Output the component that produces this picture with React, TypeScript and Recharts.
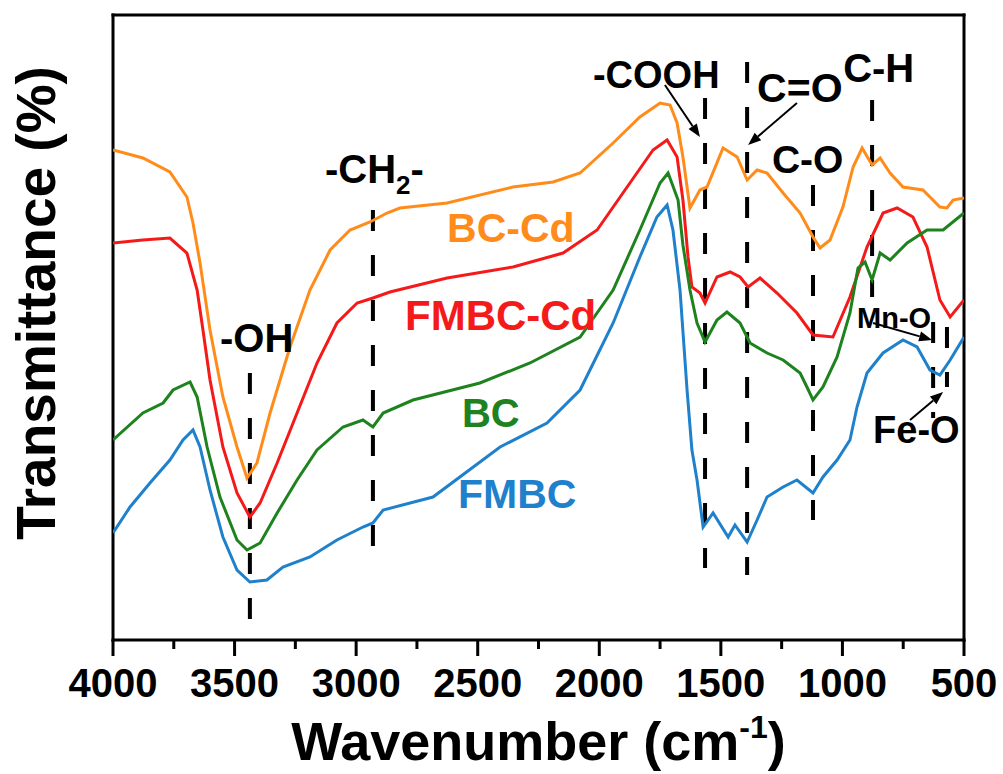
import React from "react";
import {
  LineChart,
  Line,
  XAxis,
  YAxis,
  ReferenceLine,
  ReferenceDot,
} from "recharts";

// wavenumber (cm-1), transmittance (arbitrary, offset per curve)
const bcCdWave = [4000, 3877, 3766, 3696, 3671, 3642, 3601, 3548, 3490, 3449, 3408, 3354, 3272, 3190, 3107, 3025, 2943, 2873, 2820, 2626, 2355, 2190, 2079, 1943, 1833, 1750, 1709, 1680, 1656, 1627, 1586, 1557, 1491, 1433, 1392, 1351, 1310, 1244, 1174, 1121, 1092, 1051, 998, 956, 919, 878, 845, 804, 751, 669, 599, 570, 545, 500];
const bcCdT = [490, 482, 468, 443, 417, 377, 310, 243, 193, 162, 177, 227, 293, 350, 390, 410, 418, 427, 432, 437, 453, 458, 467, 497, 523, 537, 535, 517, 483, 432, 450, 453, 492, 483, 460, 470, 467, 447, 427, 403, 392, 400, 433, 473, 492, 475, 482, 467, 453, 450, 433, 432, 440, 442];

const fmbcCdWave = [4000, 3877, 3766, 3696, 3654, 3630, 3601, 3548, 3490, 3437, 3395, 3325, 3243, 3161, 3079, 2996, 2931, 2861, 2626, 2355, 2149, 2009, 1874, 1779, 1721, 1680, 1656, 1635, 1619, 1586, 1565, 1516, 1462, 1421, 1388, 1339, 1269, 1187, 1121, 1039, 969, 899, 833, 775, 710, 652, 599, 557, 500];
const fmbcCdT = [397, 400, 402, 387, 350, 310, 260, 193, 147, 123, 137, 177, 227, 277, 317, 337, 342, 348, 362, 373, 387, 410, 457, 490, 500, 483, 440, 383, 353, 347, 337, 363, 368, 363, 353, 362, 347, 327, 305, 303, 343, 393, 427, 432, 423, 393, 340, 323, 340];

const bcWave = [4000, 3877, 3794, 3753, 3683, 3654, 3613, 3560, 3490, 3449, 3395, 3325, 3243, 3161, 3054, 2972, 2931, 2889, 2766, 2491, 2285, 2079, 1943, 1833, 1750, 1717, 1676, 1656, 1627, 1598, 1565, 1516, 1475, 1421, 1380, 1310, 1244, 1174, 1146, 1121, 1080, 1022, 969, 936, 907, 878, 845, 804, 734, 652, 586, 500];
const bcT = [200, 227, 237, 250, 258, 243, 193, 143, 100, 90, 97, 127, 160, 190, 213, 220, 213, 227, 240, 257, 277, 303, 350, 410, 457, 467, 440, 395, 350, 317, 298, 320, 328, 317, 297, 287, 280, 267, 253, 240, 253, 283, 327, 372, 378, 360, 387, 380, 397, 410, 410, 427];

const fmbcWave = [4000, 3930, 3848, 3766, 3712, 3671, 3642, 3601, 3548, 3490, 3437, 3367, 3301, 3190, 3079, 2972, 2931, 2889, 2684, 2408, 2215, 2079, 1943, 1833, 1763, 1721, 1697, 1668, 1639, 1619, 1598, 1573, 1532, 1470, 1442, 1392, 1351, 1310, 1244, 1187, 1121, 1080, 1022, 969, 940, 899, 833, 751, 693, 640, 599, 557, 500];
const fmbcT = [107, 133, 157, 180, 200, 210, 193, 150, 103, 70, 58, 60, 73, 83, 100, 113, 117, 130, 143, 193, 217, 250, 317, 383, 423, 435, 410, 350, 250, 190, 160, 113, 127, 103, 115, 98, 120, 143, 153, 160, 147, 163, 180, 200, 233, 267, 287, 300, 293, 270, 265, 280, 303];

const xTicks = [4000, 3750, 3500, 3250, 3000, 2750, 2500, 2250, 2000, 1750, 1500, 1250, 1000, 750, 500];

// band positions: wavenumber, top and bottom of the dashed marker
const bandWave = [3437, 2931, 1565, 1392, 1121, 878, 627, 570];
const bandTop = [267, 430, 542, 578, 455, 540, 318, 313];
const bandBottom = [20, 93, 72, 65, 120, 343, 222, 253];

const X_MIN = 500;
const X_MAX = 4000;
const Y_MIN = 0;
const Y_MAX = 625;

const toPts = (w: number[], t: number[]) => w.map((wn, i) => ({ wn, t: t[i] }));

const series = [
  { name: "BC-Cd", data: toPts(bcCdWave, bcCdT), color: "#FF8C1A" },
  { name: "FMBC-Cd", data: toPts(fmbcCdWave, fmbcCdT), color: "#F51A1A" },
  { name: "BC", data: toPts(bcWave, bcT), color: "#1E821E" },
  { name: "FMBC", data: toPts(fmbcWave, fmbcT), color: "#1F80CC" },
];

const FONT = "'Liberation Sans', Arial, sans-serif";

const seriesLabels = [
  { text: "BC-Cd", wn: 2626, t: 398, size: 41, color: "#FF8C1A" },
  { text: "FMBC-Cd", wn: 2799, t: 310, size: 42, color: "#F51A1A" },
  { text: "BC", wn: 2565, t: 213, size: 40, color: "#1E821E" },
  { text: "FMBC", wn: 2581, t: 132, size: 41, color: "#1F80CC" },
];

const bandLabels = [
  { text: "-OH", wn: 3560, t: 288, size: 40 },
  { text: "-COOH", wn: 2026, t: 552, size: 38 },
  { text: "C=O", wn: 1351, t: 538, size: 41 },
  { text: "C-H", wn: 997, t: 558, size: 40 },
  { text: "C-O", wn: 1290, t: 467, size: 39 },
  { text: "Mn-O", wn: 940, t: 312, size: 29 },
  { text: "Fe-O", wn: 874, t: 197, size: 38 },
];

const arrows = [
  { from: [1730, 555], to: [1586, 503] },
  { from: [1187, 537], to: [1388, 495] },
  { from: [874, 317], to: [631, 300] },
  { from: [722, 220], to: [586, 248] },
];

const frame = [
  [[X_MAX, Y_MIN], [X_MAX, Y_MAX]],
  [[X_MIN, Y_MIN], [X_MIN, Y_MAX]],
  [[X_MAX, Y_MIN], [X_MIN, Y_MIN]],
  [[X_MAX, Y_MAX], [X_MIN, Y_MAX]],
];

const XTick = (props: any) => {
  const { x, y, payload } = props;
  const major = payload.value % 500 === 0;
  return (
    <g>
      <line x1={x} x2={x} y1={y} y2={y + (major ? 16 : 9)} stroke="#000" strokeWidth={3} />
      {major && (
        <text x={x} y={y + 57} textAnchor="middle" fontSize={40} fontWeight="bold" fontFamily={FONT} fill="#000">
          {payload.value}
        </text>
      )}
    </g>
  );
};

const arrowShape = (props: any) => {
  const { x1, y1, x2, y2 } = props;
  const a = Math.atan2(y2 - y1, x2 - x1);
  const L = 13;
  const W = 5;
  const bx = x2 - L * Math.cos(a);
  const by = y2 - L * Math.sin(a);
  const pts = `${x2},${y2} ${bx - W * Math.sin(a)},${by + W * Math.cos(a)} ${bx + W * Math.sin(a)},${by - W * Math.cos(a)}`;
  return (
    <g>
      <line x1={x1} y1={y1} x2={bx} y2={by} stroke="#000" strokeWidth={2} />
      <polygon points={pts} fill="#000" />
    </g>
  );
};

const frameShape = (props: any) => (
  <line x1={props.x1} y1={props.y1} x2={props.x2} y2={props.y2} stroke="#000" strokeWidth={3} strokeLinecap="square" />
);

const textShape = (text: string, size: number, color: string) => (props: any) => (
  <text x={props.cx} y={props.cy} fontSize={size} fontWeight="bold" fontFamily={FONT} fill={color}>
    {text}
  </text>
);

const ch2Shape = (props: any) => (
  <text x={props.cx} y={props.cy} fontSize={40} fontWeight="bold" fontFamily={FONT} fill="#000">
    -CH
    <tspan fontSize={26} dy={11}>2</tspan>
    <tspan dy={-11}>-</tspan>
  </text>
);

export default function App() {
  return (
    <div style={{ position: "absolute", left: 0, top: 0, background: "#fff" }}>
      <LineChart width={1003} height={774} margin={{ top: 15, right: 39, bottom: 0, left: 0 }}>
        <XAxis
          dataKey="wn"
          type="number"
          domain={[X_MIN, X_MAX]}
          reversed
          allowDataOverflow
          ticks={xTicks}
          interval={0}
          tickSize={0}
          tickMargin={0}
          tickLine={false}
          axisLine={false}
          height={134}
          tick={XTick}
          label={(p: any) => {
            const vb = p.viewBox;
            return (
              <text x={vb.x + vb.width / 2} y={vb.y + 120} textAnchor="middle" fontSize={54} fontWeight="bold" fontFamily={FONT} fill="#000">
                Wavenumber (cm
                <tspan fontSize={32} dy={-22}>-1</tspan>
                <tspan dy={22}>)</tspan>
              </text>
            );
          }}
        />
        <YAxis
          type="number"
          domain={[Y_MIN, Y_MAX]}
          allowDataOverflow
          width={113}
          tick={false}
          tickLine={false}
          axisLine={false}
          label={(p: any) => {
            const vb = p.viewBox;
            return (
              <text
                transform={`translate(${vb.x + 55}, 303) rotate(-90)`}
                textAnchor="middle"
                fontSize={55}
                fontWeight="bold"
                fontFamily={FONT}
                fill="#000"
              >
                Transmittance (%)
              </text>
            );
          }}
        />
        {frame.map((f, i) => (
          <ReferenceLine
            key={"frame" + i}
            segment={[
              { x: f[0][0], y: f[0][1] },
              { x: f[1][0], y: f[1][1] },
            ]}
            ifOverflow="visible"
            shape={frameShape}
          />
        ))}
        {bandWave.map((wn, i) => (
          <ReferenceLine
            key={"band" + i}
            segment={[
              { x: wn, y: bandTop[i] },
              { x: wn, y: bandBottom[i] },
            ]}
            stroke="#000"
            strokeWidth={4}
            strokeDasharray="21 24"
          />
        ))}
        {series.map((s) => (
          <Line
            key={s.name}
            data={s.data}
            dataKey="t"
            name={s.name}
            type="linear"
            stroke={s.color}
            strokeWidth={3}
            dot={false}
            isAnimationActive={false}
          />
        ))}
        {arrows.map((a, i) => (
          <ReferenceLine
            key={"arrow" + i}
            segment={[
              { x: a.from[0], y: a.from[1] },
              { x: a.to[0], y: a.to[1] },
            ]}
            shape={arrowShape}
          />
        ))}
        {seriesLabels.map((l) => (
          <ReferenceDot key={l.text} x={l.wn} y={l.t} r={1} shape={textShape(l.text, l.size, l.color)} />
        ))}
        {bandLabels.map((l) => (
          <ReferenceDot key={l.text} x={l.wn} y={l.t} r={1} shape={textShape(l.text, l.size, "#000")} />
        ))}
        <ReferenceDot x={3128} y={457} r={1} shape={ch2Shape} />
      </LineChart>
    </div>
  );
}
